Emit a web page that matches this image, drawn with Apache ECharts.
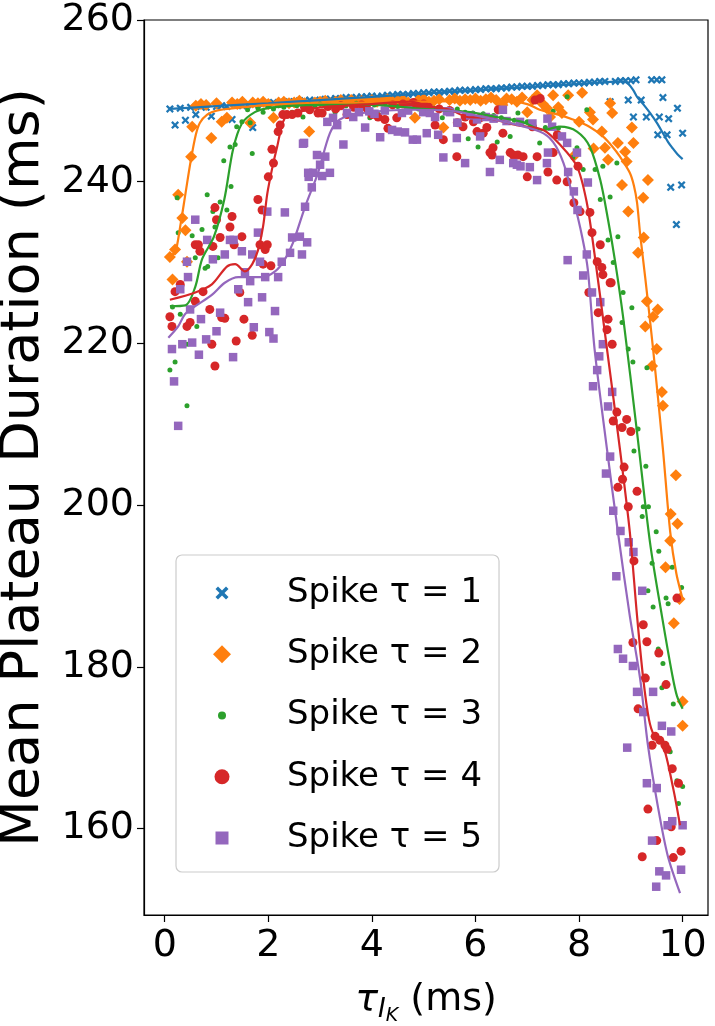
<!DOCTYPE html>
<html>
<head>
<meta charset="utf-8">
<script src="https://cdn.jsdelivr.net/npm/echarts@6/dist/echarts.min.js"></script>
<style>
html,body{margin:0;padding:0;background:#fff;}
#chart{width:715px;height:1026px;}
</style>
</head>
<body>
<div id="chart"></div>
<script>
// ---------- DATA ----------
const seriesNames = ['Spike \u03c4 = 1','Spike \u03c4 = 2','Spike \u03c4 = 3','Spike \u03c4 = 4','Spike \u03c4 = 5'];
const colors = ['#1f77b4','#ff7f0e','#2ca02c','#d62728','#9467bd'];
const xTicks = [0,2,4,6,8,10];
const yTicks = [160,180,200,220,240,260];

// scatter points [tau_IK, mean plateau duration]
const pts1 = [[0.1,249.0],[0.2,247.0],[0.3,249.1],[0.4,247.6],[0.5,249.2],[0.6,248.3],[0.7,249.3],[0.8,249.2],[0.9,248.1],[1.0,249.3],[1.1,249.4],[1.2,249.3],[1.3,247.7],[1.4,249.5],[1.5,249.4],[1.6,249.5],[1.7,246.7],[1.8,249.6],[1.9,249.7],[2.0,249.6],[2.1,249.8],[2.2,249.7],[2.3,249.8],[2.4,249.9],[2.5,249.9],[2.6,250.0],[2.7,250.0],[2.8,250.1],[2.9,250.0],[3.0,250.1],[3.1,250.2],[3.2,250.2],[3.3,250.3],[3.4,250.2],[3.5,250.4],[3.6,250.4],[3.7,250.4],[3.8,250.5],[3.9,250.5],[4.0,250.6],[4.1,250.5],[4.2,250.6],[4.3,250.7],[4.4,250.7],[4.5,250.8],[4.6,250.8],[4.7,250.8],[4.8,250.9],[4.9,250.9],[5.0,251.0],[5.1,251.0],[5.2,251.1],[5.3,251.1],[5.4,251.1],[5.5,251.2],[5.6,251.2],[5.7,251.3],[5.8,251.3],[5.9,251.3],[6.0,251.4],[6.1,251.4],[6.2,251.5],[6.3,251.5],[6.4,251.5],[6.5,251.6],[6.6,251.6],[6.7,251.7],[6.8,251.7],[6.9,251.8],[7.0,251.8],[7.1,251.8],[7.2,251.9],[7.3,251.9],[7.4,252.0],[7.5,252.0],[7.6,252.0],[7.7,252.1],[7.8,252.1],[7.9,252.2],[8.0,252.2],[8.1,252.2],[8.2,252.3],[8.3,252.3],[8.4,252.4],[8.5,252.4],[8.6,249.9],[8.7,252.4],[8.8,252.5],[8.9,252.5],[8.95,250.1],[9.0,252.5],[9.05,248.0],[9.1,252.6],[9.2,250.1],[9.3,248.0],[9.4,252.6],[9.5,252.6],[9.52,245.8],[9.55,248.0],[9.6,252.6],[9.62,250.4],[9.7,245.8],[9.73,247.8],[9.77,239.3],[9.88,234.7],[9.9,249.1],[9.98,239.6],[10.0,246.0]];

const pts2 = [[0.1,230.7],[0.15,227.9],[0.2,231.6],[0.26,238.4],[0.34,235.5],[0.4,234.0],[0.43,230.1],[0.51,243.1],[0.53,246.8],[0.6,249.4],[0.7,249.6],[0.8,249.5],[0.9,245.4],[1.0,249.7],[1.1,247.4],[1.2,247.9],[1.3,249.8],[1.4,249.6],[1.5,249.9],[1.65,247.3],[1.7,249.8],[1.8,249.7],[1.9,249.9],[2.0,249.6],[2.1,247.9],[2.2,249.8],[2.3,249.9],[2.4,249.7],[2.5,249.8],[2.6,250.0],[2.7,249.7],[2.79,246.2],[2.9,249.8],[3.0,249.9],[3.1,250.0],[3.2,249.7],[3.3,249.9],[3.4,250.1],[3.5,249.8],[3.6,250.1],[3.7,249.9],[3.8,250.0],[3.9,249.8],[4.0,250.1],[4.1,249.9],[4.2,250.0],[4.3,250.2],[4.4,249.9],[4.5,250.0],[4.6,250.1],[4.7,249.8],[4.83,247.9],[4.9,250.1],[5.0,250.2],[5.1,249.9],[5.2,250.0],[5.3,250.2],[5.38,246.7],[5.5,250.1],[5.6,250.3],[5.7,250.0],[5.8,250.2],[5.9,250.1],[6.0,250.3],[6.1,250.0],[6.2,250.2],[6.3,250.4],[6.4,250.1],[6.52,249.5],[6.6,250.3],[6.7,250.2],[6.8,249.9],[6.9,250.4],[7.0,248.6],[7.1,250.1],[7.19,250.7],[7.3,249.6],[7.38,249.1],[7.44,248.0],[7.5,250.7],[7.6,249.2],[7.67,248.5],[7.79,250.7],[7.92,243.3],[8.0,247.4],[8.06,251.0],[8.21,248.6],[8.27,247.7],[8.28,244.1],[8.44,246.2],[8.5,244.2],[8.56,242.7],[8.6,249.7],[8.64,248.5],[8.75,244.8],[8.83,239.6],[8.89,243.7],[8.92,242.5],[8.95,236.3],[9.02,246.7],[9.05,244.8],[9.14,231.2],[9.24,238.0],[9.25,233.1],[9.28,222.1],[9.31,225.2],[9.33,240.2],[9.41,217.2],[9.43,223.3],[9.5,219.3],[9.52,224.2],[9.6,214.0],[9.62,212.3],[9.67,192.3],[9.76,195.6],[9.77,198.9],[9.83,185.4],[9.87,203.7],[9.9,197.7],[9.94,188.4],[10.0,175.7],[10.0,172.7]];

const pts3 = [[0.1,216.7],[0.15,224.5],[0.2,217.7],[0.24,238.0],[0.26,233.7],[0.3,223.6],[0.43,212.3],[0.43,219.9],[0.53,233.3],[0.59,230.6],[0.62,222.1],[0.72,234.1],[0.78,229.3],[0.82,238.4],[0.83,229.5],[0.93,236.3],[0.97,234.4],[1.03,230.6],[1.07,237.5],[1.14,242.6],[1.2,236.5],[1.26,244.3],[1.28,239.4],[1.36,244.6],[1.39,246.8],[1.49,247.4],[1.6,248.9],[1.65,247.3],[1.69,243.5],[1.8,249.1],[1.9,248.6],[2.0,249.3],[2.1,249.0],[2.2,249.4],[2.3,249.2],[2.46,248.6],[2.55,249.4],[2.67,248.0],[2.8,249.5],[2.9,249.3],[3.0,249.6],[3.1,249.4],[3.2,249.5],[3.29,248.6],[3.4,249.6],[3.5,249.4],[3.6,249.5],[3.7,249.7],[3.8,249.4],[3.96,247.9],[4.05,249.5],[4.13,248.3],[4.25,249.6],[4.4,249.4],[4.5,249.3],[4.6,249.5],[4.7,249.2],[4.8,249.4],[4.9,249.0],[5.0,249.2],[5.1,248.9],[5.2,249.1],[5.36,247.9],[5.45,248.9],[5.55,248.7],[5.65,249.0],[5.8,248.6],[5.86,245.3],[5.95,248.5],[6.05,244.3],[6.15,248.4],[6.25,248.1],[6.35,248.2],[6.42,244.9],[6.5,247.9],[6.6,247.7],[6.67,245.6],[6.75,247.6],[6.82,248.5],[6.9,247.3],[7.0,247.4],[7.1,246.9],[7.24,244.8],[7.35,246.7],[7.5,248.7],[7.6,246.6],[7.77,250.5],[7.88,243.0],[7.96,244.2],[8.08,241.5],[8.15,248.9],[8.31,241.5],[8.41,237.8],[8.46,241.9],[8.56,232.8],[8.6,238.1],[8.66,230.0],[8.73,242.3],[8.75,233.2],[8.83,222.6],[8.85,226.3],[8.95,219.3],[9.02,224.4],[9.04,217.7],[9.06,206.7],[9.14,209.4],[9.22,198.6],[9.24,199.8],[9.29,204.8],[9.31,217.0],[9.33,189.4],[9.34,199.8],[9.41,192.8],[9.43,187.4],[9.49,196.7],[9.53,182.2],[9.54,194.3],[9.6,177.4],[9.62,180.4],[9.68,188.5],[9.72,187.8],[9.76,169.5],[9.8,192.3],[9.82,175.4],[9.89,165.9],[9.92,163.1],[9.98,189.8],[10.0,165.2]];

const pts4 = [[0.1,223.3],[0.14,222.1],[0.2,226.4],[0.3,227.3],[0.43,222.1],[0.49,222.6],[0.59,225.2],[0.59,232.2],[0.65,232.2],[0.68,231.4],[0.74,226.4],[0.87,224.2],[0.91,219.9],[0.93,232.0],[0.97,217.2],[0.97,236.8],[1.0,235.3],[1.07,233.1],[1.1,223.2],[1.16,223.1],[1.26,234.4],[1.3,235.7],[1.34,232.2],[1.38,220.3],[1.45,226.3],[1.49,233.2],[1.53,223.0],[1.69,221.0],[1.8,237.8],[1.84,232.2],[1.88,236.5],[1.9,229.8],[1.94,231.6],[1.98,232.2],[2.0,240.6],[2.05,229.6],[2.07,244.0],[2.1,242.3],[2.19,246.2],[2.23,247.0],[2.28,248.3],[2.36,248.3],[2.46,248.3],[2.57,248.5],[2.7,249.2],[2.8,248.9],[2.96,248.5],[3.04,248.5],[3.15,249.3],[3.3,249.0],[3.4,249.4],[3.52,248.3],[3.65,249.2],[3.8,249.5],[3.9,249.1],[4.0,248.3],[4.12,248.0],[4.25,247.7],[4.31,246.6],[4.4,249.5],[4.48,247.9],[4.6,249.6],[4.7,249.3],[4.8,249.8],[4.9,249.5],[5.0,249.6],[5.1,249.2],[5.22,247.0],[5.3,249.0],[5.38,245.2],[5.5,248.8],[5.64,243.1],[5.65,247.3],[5.76,246.8],[5.8,248.0],[5.96,247.4],[6.03,246.2],[6.09,247.9],[6.15,246.0],[6.22,246.7],[6.28,243.6],[6.32,243.3],[6.34,244.2],[6.44,248.9],[6.53,246.0],[6.67,243.6],[6.73,243.3],[6.82,243.3],[6.92,243.1],[7.0,240.6],[7.1,246.8],[7.15,250.1],[7.19,243.1],[7.25,250.3],[7.4,241.2],[7.5,243.6],[7.57,240.2],[7.58,245.8],[7.77,240.0],[7.9,237.4],[7.98,241.9],[8.02,236.3],[8.19,226.3],[8.21,236.2],[8.25,233.7],[8.35,230.1],[8.37,223.8],[8.41,232.2],[8.44,229.4],[8.46,228.5],[8.54,221.7],[8.56,223.0],[8.6,227.5],[8.62,227.5],[8.64,219.9],[8.66,210.4],[8.73,211.5],[8.75,202.2],[8.83,209.6],[8.84,203.2],[8.87,204.7],[8.92,210.6],[8.95,199.8],[9.0,209.1],[9.04,183.0],[9.06,193.1],[9.12,201.7],[9.14,174.8],[9.22,156.5],[9.24,185.2],[9.28,178.6],[9.31,183.1],[9.33,162.4],[9.41,170.3],[9.47,171.4],[9.5,158.5],[9.54,181.7],[9.56,170.9],[9.66,170.3],[9.68,177.8],[9.7,169.8],[9.78,160.2],[9.8,167.4],[9.82,156.4],[9.89,188.5],[9.92,165.6],[9.97,157.2]];

const pts5 = [[0.14,219.3],[0.18,215.3],[0.26,209.8],[0.3,226.7],[0.34,219.9],[0.43,230.1],[0.45,228.2],[0.49,224.2],[0.53,220.1],[0.59,235.3],[0.66,218.6],[0.7,223.0],[0.8,220.5],[0.82,232.8],[0.93,230.4],[1.0,221.5],[1.07,223.8],[1.16,231.0],[1.26,232.8],[1.32,218.3],[1.33,232.8],[1.42,226.7],[1.49,231.4],[1.55,228.8],[1.61,225.1],[1.65,227.7],[1.69,231.0],[1.72,222.0],[1.8,233.7],[1.84,230.1],[1.88,225.7],[1.94,228.2],[1.98,236.3],[2.02,221.4],[2.1,220.6],[2.13,224.0],[2.19,228.2],[2.26,230.1],[2.32,236.2],[2.42,231.2],[2.46,233.1],[2.61,233.2],[2.65,231.0],[2.67,244.7],[2.69,244.8],[2.71,236.9],[2.75,232.5],[2.77,241.1],[2.78,240.6],[2.84,239.3],[2.87,241.1],[2.94,243.3],[3.0,242.1],[3.04,240.7],[3.1,243.1],[3.14,247.4],[3.19,241.1],[3.25,247.9],[3.33,247.0],[3.45,244.6],[3.52,248.5],[3.64,248.0],[3.75,248.6],[3.87,246.7],[3.95,248.7],[4.05,248.4],[4.16,245.5],[4.25,248.8],[4.39,246.4],[4.5,246.2],[4.58,248.5],[4.64,246.1],[4.7,248.8],[4.79,245.2],[4.87,245.2],[4.99,248.6],[5.06,246.0],[5.12,248.5],[5.22,248.0],[5.28,245.8],[5.38,243.0],[5.45,248.7],[5.51,248.6],[5.64,245.4],[5.65,247.3],[5.8,242.3],[5.9,248.2],[6.03,247.7],[6.09,245.6],[6.2,248.0],[6.28,241.2],[6.35,247.8],[6.47,242.7],[6.53,248.9],[6.6,247.5],[6.73,242.3],[6.8,242.1],[6.86,247.4],[6.87,241.9],[7.05,241.8],[7.1,247.2],[7.19,240.2],[7.38,242.3],[7.39,247.8],[7.4,243.6],[7.48,246.8],[7.67,245.6],[7.77,244.8],[7.78,230.3],[7.79,241.2],[7.9,238.8],[7.96,243.6],[7.97,236.5],[8.08,228.4],[8.15,231.0],[8.17,239.9],[8.25,226.3],[8.27,214.7],[8.35,216.7],[8.39,218.4],[8.41,225.1],[8.46,219.9],[8.52,203.9],[8.56,212.2],[8.6,206.0],[8.64,214.0],[8.66,199.3],[8.72,191.2],[8.75,182.2],[8.8,196.8],[8.85,181.0],[8.93,170.0],[8.96,195.4],[9.04,180.1],[9.05,194.2],[9.12,176.9],[9.22,189.4],[9.24,174.4],[9.31,165.6],[9.41,158.5],[9.43,176.9],[9.49,152.8],[9.5,165.0],[9.55,154.7],[9.6,172.7],[9.68,154.2],[9.71,160.4],[9.78,172.0],[9.8,160.9],[9.97,154.9],[10.0,160.4]];

// smoothed fit curves
const fit1 = [[0.1,249.0],[1,249.35],[2,249.7],[3,250.1],[4,250.5],[5,250.9],[6,251.3],[7,251.7],[8,252.1],[8.85,252.4],[8.95,252.1],[9.05,251.3],[9.12,250.5],[9.25,249.5],[9.37,248.5],[9.5,247.3],[9.62,246.0],[9.72,244.9],[9.8,244.2],[9.9,243.4],[10.0,242.8]];
const fit2 = [[0.1,231.0],[0.2,231.2],[0.3,234.5],[0.4,238.5],[0.5,242.5],[0.6,245.8],[0.68,247.3],[0.82,248.3],[1.0,248.8],[1.5,249.2],[2.0,249.5],[3.0,249.7],[4.0,249.8],[5.0,249.9],[6.0,250.0],[6.6,250.0],[7.0,249.6],[7.24,248.9],[7.6,248.3],[7.88,247.7],[8.2,246.8],[8.46,245.6],[8.65,244.3],[8.79,243.1],[8.98,241.1],[9.06,239.5],[9.12,237.4],[9.18,233.5],[9.28,228.0],[9.43,219.3],[9.62,206.9],[9.76,196.7],[9.88,191.5],[10.0,188.4]];
const fit3 = [[0.1,224.6],[0.4,224.7],[0.59,227.0],[0.72,230.4],[0.95,233.2],[1.15,237.8],[1.32,244.0],[1.49,247.2],[1.74,248.6],[2.0,249.1],[2.5,249.4],[3.0,249.5],[4.0,249.5],[4.5,249.3],[5.0,249.0],[5.5,248.8],[5.9,248.6],[6.4,248.0],[6.9,247.4],[7.3,246.4],[7.63,246.8],[7.96,246.2],[8.21,244.3],[8.41,240.2],[8.56,235.3],[8.7,230.0],[8.85,223.3],[9.12,209.0],[9.37,195.4],[9.6,186.3],[9.8,179.0],[9.89,176.4],[10.0,174.8]];
const fit4 = [[0.1,225.4],[0.59,226.3],[0.91,227.3],[1.2,229.5],[1.36,229.8],[1.55,228.9],[1.69,229.8],[1.8,231.5],[1.9,234.5],[1.98,238.5],[2.08,241.8],[2.17,244.3],[2.32,247.9],[2.57,248.6],[3.0,249.2],[3.5,249.4],[4.0,249.6],[4.74,249.9],[5.12,249.3],[5.51,248.9],[5.84,248.0],[6.22,247.9],[6.8,247.0],[7.31,246.4],[7.63,244.6],[7.96,241.9],[8.15,237.4],[8.3,231.0],[8.54,219.3],[8.79,206.9],[8.98,196.7],[9.12,186.3],[9.24,178.5],[9.35,173.5],[9.45,171.5],[9.62,170.3],[9.82,164.9],[9.95,160.4]];
const fit5 = [[0.07,220.7],[0.26,222.1],[0.39,223.6],[0.59,224.6],[0.91,226.0],[1.16,227.5],[1.42,228.2],[1.88,228.2],[2.13,228.9],[2.32,230.4],[2.48,232.5],[2.71,236.9],[2.96,241.1],[3.19,246.0],[3.38,247.7],[3.83,248.5],[4.79,248.9],[5.5,248.8],[6.0,248.2],[6.5,247.5],[7.24,246.2],[7.5,244.9],[7.7,242.3],[7.88,238.1],[8.06,233.2],[8.17,229.1],[8.3,219.3],[8.54,206.9],[8.75,196.7],[8.98,186.3],[9.18,178.5],[9.33,170.3],[9.52,162.8],[9.71,156.7],[9.95,152.0]];

// ---------- CHART ----------
const FONT = 'DejaVu Sans';
const xPath = 'path://M0,2 L2,0 L5,3 L8,0 L10,2 L7,5 L10,8 L8,10 L5,7 L2,10 L0,8 L3,5 Z';
// legend icons: padded to a common 20x20 box so each keeps its own size
const legIcons = [
  'path://M0,0 M20,20 M3.5,6 L6,3.5 L10,7.5 L14,3.5 L16.5,6 L12.5,10 L16.5,14 L14,16.5 L10,12.5 L6,16.5 L3.5,14 L7.5,10 Z',
  'path://M0,0 M20,20 M10,1 L19,10 L10,19 L1,10 Z',
  'path://M0,0 M20,20 M6,10 A4,4 0 1,0 14,10 A4,4 0 1,0 6,10 Z',
  'path://M0,0 M20,20 M2.5,10 A7.5,7.5 0 1,0 17.5,10 A7.5,7.5 0 1,0 2.5,10 Z',
  'path://M0,0 M20,20 M3.5,3.5 L16.5,3.5 L16.5,16.5 L3.5,16.5 Z'
];
const symbols = [xPath, 'diamond', 'circle', 'circle', 'rect'];
const symSizes = [8, 12, 5, 9, 8.5];
const pts = [pts1, pts2, pts3, pts4, pts5];
const fits = [fit1, fit2, fit3, fit4, fit5];

const series = [];
for (let i = 0; i < 5; i++) {
  series.push({
    name: seriesNames[i], type: 'scatter', data: pts[i],
    symbol: symbols[i], symbolSize: symSizes[i],
    itemStyle: {color: colors[i], opacity: 1},
    emphasis: {disabled: true}, silent: true
  });
  series.push({
    name: 'fit' + (i+1), type: 'line', data: fits[i],
    showSymbol: false, smooth: 0.3, symbol: 'none',
    lineStyle: {color: colors[i], width: 2.2},
    itemStyle: {color: colors[i]},
    emphasis: {disabled: true}, silent: true
  });
}

const tok = (size, extra) => Object.assign({fontSize: size, lineHeight: 50, color: '#000', fontFamily: FONT}, extra || {});

const chart = echarts.init(document.getElementById('chart'), null, {renderer: 'canvas'});
chart.setOption({
  animation: false,
  backgroundColor: '#fff',
  textStyle: {fontFamily: FONT},
  grid: {left: 144, top: 20, width: 564, height: 895, containLabel: false, outerBoundsMode: 'none',
         show: true, borderColor: '#000', borderWidth: 1.2, backgroundColor: 'transparent'},
  xAxis: {
    type: 'value', min: -0.4, max: 10.49,
    splitLine: {show: false},
    axisLine: {show: true, onZero: false, lineStyle: {color: '#000', width: 1.2}},
    axisTick: {show: true, inside: false, length: 7, customValues: xTicks, lineStyle: {color: '#000', width: 1.2}},
    axisLabel: {customValues: xTicks, color: '#000', fontSize: 38, fontFamily: FONT, margin: 12},
    name: '{t|\u03c4}{s|I}{ss|K}{p| (ms)}',
    nameLocation: 'middle', nameGap: 60,
    nameTextStyle: {
      color: '#000', fontFamily: FONT,
      rich: {
        t: tok(38, {fontStyle: 'italic'}),
        s: tok(26, {fontStyle: 'italic', padding: [20, 0, 0, 0]}),
        ss: tok(19, {fontStyle: 'italic', padding: [32, 0, 0, 0]}),
        p: tok(38)
      }
    }
  },
  yAxis: {
    type: 'value', min: 149.3, max: 260,
    splitLine: {show: false},
    axisLine: {show: true, onZero: false, lineStyle: {color: '#000', width: 1.2}},
    axisTick: {show: true, inside: false, length: 7, customValues: yTicks, lineStyle: {color: '#000', width: 1.2}},
    axisLabel: {customValues: yTicks, color: '#000', fontSize: 38, fontFamily: FONT, margin: 10},
    name: 'Mean Plateau Duration (ms)',
    nameLocation: 'middle', nameGap: 83,
    nameTextStyle: {color: '#000', fontSize: 54, fontFamily: FONT}
  },
  legend: {
    data: seriesNames.map((n, i) => ({name: n, icon: legIcons[i]})),
    orient: 'vertical', left: 176, top: 555,
    itemWidth: 20, itemHeight: 20, itemGap: 21.25,
    padding: [18, 17, 14, 36],
    backgroundColor: 'rgba(255,255,255,0.8)',
    borderColor: '#cccccc', borderWidth: 1.2, borderRadius: 6,
    selectedMode: false,
    textStyle: {fontSize: 34, color: '#000', fontFamily: FONT, lineHeight: 40, padding: [0, 0, 0, 50]}
  },
  series: series
});
</script>
</body>
</html>
